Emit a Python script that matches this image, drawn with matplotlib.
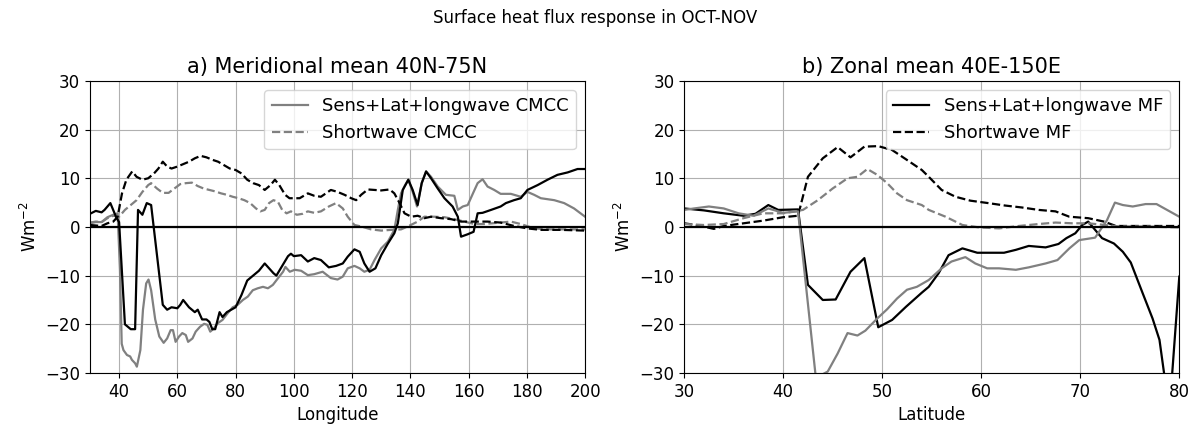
import numpy as np
import matplotlib.pyplot as plt

# a) meridional mean 40N-75N, as a function of longitude
lon_mf = [30, 32, 34, 35, 37, 39, 40, 42, 44, 45.5, 46.5, 48, 49.5, 51, 55, 56.5, 58, 60, 61, 62,
          64, 66, 67, 68.5, 70, 71, 72, 73, 74.5, 75.5, 77, 80, 82, 84, 86, 88, 90, 91.5, 93, 94,
          95, 96.5, 98, 99, 100, 102.5, 104.8, 107, 109.3, 112, 114.5, 116.8, 118.5, 120.8,
          122.6, 124.2, 126, 128, 130, 132.3, 134.5, 135.7, 137.4, 139.3, 140.8, 142.5, 143.9,
          145.4, 147.1, 149.4, 151.7, 154.5, 156.3, 157.4, 159.7, 161.7, 163.1, 164.8, 167.7,
          171, 172.8, 175.6, 177.9, 180.2, 183.7, 187.1, 190.5, 194, 197.4, 200]
sens_mf_lon = [2.7, 3.3, 3.0, 3.5, 4.9, 2.0, 1.0, -20, -21, -21, 3.5, 2.5, 4.9, 4.5, -16, -17, -16.5,
               -16.7, -16, -15, -16.5, -17.5, -17, -19, -19, -19.5, -21, -21, -17.5, -18.5, -17.5,
               -16.5, -14, -11, -10, -9, -7.5, -8.5, -9.5, -10, -9, -7.5, -6, -5.5, -6, -5.8, -7.1,
               -6.4, -6.8, -8.3, -8, -7.5, -6.1, -4.6, -5.1, -7.5, -9.2, -8.5, -5.8, -3.4, -1.3,
               0.75, 7.6, 9.7, 7.6, 4.5, 9.0, 11.4, 10, 7.9, 5.9, 4.2, 2.1, -2.0, -1.5, -1.0, 2.8,
               2.9, 3.5, 4.2, 4.9, 5.5, 5.9, 7.6, 8.6, 9.7, 10.7, 11.2, 11.9, 11.9]

lon_cm = [30, 32, 34, 36, 38, 39.5, 40.3, 40.9, 41.5, 42.7, 43.8, 44.4, 45.5, 46.1, 47.3, 48.2,
          49.3, 50.1, 51, 52.4, 53.8, 55.3, 56.5, 57.7, 58.5, 59.4, 60.6, 61.7, 62.9, 63.7, 65.2,
          66.3, 67.8, 69.2, 70.3, 71.3, 72.6, 73.8, 75.5, 77.3, 79, 80.7, 82.5, 84.2, 85.9, 87.6,
          89.4, 91.1, 92.8, 94.6, 96.3, 97.1, 98.6, 100.3, 102.5, 104.8, 107, 109.9, 112.7, 115,
          116.8, 118.5, 120.8, 122.6, 124.2, 126, 127.7, 130, 132.3, 134.5, 135.7, 136.8, 138.2,
          139.3, 140.8, 142.3, 143.9, 145.4, 147.1, 149.4, 152.2, 155.1, 156.3, 158, 159.7,
          161.5, 163.1, 164.8, 166.5, 168.8, 171, 174.5, 177.9, 180.2, 182.5, 184.8, 189.4,
          192.8, 196.2, 200]
sens_cm_lon = [0.75, 1.0, 1.0, 2.0, 2.5, 2.8, -8.8, -24, -25.3, -26.3, -26.6, -27.3, -28, -28.7,
               -25.3, -17, -11.6, -10.8, -13, -19, -22.5, -23.8, -22.9, -21.2, -21.2, -23.6,
               -22.5, -21.8, -22.2, -23.6, -22.9, -21.5, -20.5, -19.9, -20.1, -21.5, -20.8,
               -19.8, -19.1, -17.7, -16.5, -16, -15, -14.3, -13, -12.6, -12.3, -12.6, -11.9,
               -10.5, -9.2, -8.2, -9.2, -8.8, -9.0, -9.9, -9.7, -9.2, -10.5, -10.8, -10.2, -8.5,
               -8, -8.5, -9.2, -8.8, -6.8, -4.4, -3.0, -0.6, 3.5, 6.9, 8.6, 9.7, 7.2, 4.2, 9.0,
               11.4, 10.3, 8.3, 6.6, 6.4, 3.5, 4.2, 4.5, 6.9, 9.0, 9.8, 8.3, 7.6, 6.8, 6.8, 6.2,
               7.2, 6.6, 5.9, 5.5, 4.9, 3.8, 2.1]

lon_sw_mf = [30, 32, 34, 36, 38, 39.5, 41, 42.5, 44.5, 46, 48, 50, 52, 53.5, 55, 56.5, 58, 60, 62,
             64, 66, 68, 70, 72, 74, 76, 78, 80, 82, 84, 86, 88, 90, 92, 93.5, 95, 97, 98.5, 100,
             102, 104.8, 107, 109.3, 112.7, 115, 117.4, 119.7, 121.4, 123.1, 125.4, 127.7, 130,
             132.9, 134.5, 136.3, 138, 140.3, 142.5, 144.8, 147.1, 150.5, 154, 157.4, 159.7,
             163.1, 166.5, 171, 175.6, 180.2, 184.8, 191.7, 200]
sw_mf_lon = [0.4, 0.3, 0.2, 0.75, 1.1, 2.1, 6.9, 9.7, 11.4, 10.3, 9.7, 10, 11, 12, 13.4, 12.4, 12,
             12.4, 12.9, 13.4, 14.1, 14.6, 14.3, 13.8, 13.4, 12.7, 12, 11.7, 11, 9.7, 9, 8.6, 7.6,
             8.6, 9.7, 8.6, 6.6, 5.9, 5.9, 5.9, 6.9, 6.4, 6.2, 7.6, 7.2, 6.6, 5.9, 5.5, 6.6, 7.7,
             7.6, 7.5, 7.7, 6.9, 4.9, 2.8, 2.1, 2.3, 1.8, 2.1, 1.8, 1.6, 1.1, 1.1, 1.1, 1.1, 0.9,
             0.2, -0.3, -0.6, -0.6, -0.75]

lon_sw_cm = [30, 32, 34, 36, 38, 40, 42, 44, 46, 48, 50, 51, 53, 55, 57, 59, 61, 63, 65, 67, 69,
             71, 73, 75, 77, 79, 81, 83, 85, 87, 88.5, 90, 91.5, 93, 94.5, 96, 97.5, 99, 101, 103,
             104.8, 107, 109.3, 112, 114.5, 116.8, 118.5, 120.8, 123.1, 126.5, 130, 133.4, 136.8,
             139.1, 142.5, 144.8, 148.2, 151.7, 155.1, 158.5, 162, 165.4, 171, 174.5, 177.9,
             182.5, 188.2, 194, 200]
sw_cm_lon = [0.9, 1.1, 1.0, 1.8, 2.3, 2.1, 3.5, 4.5, 5.5, 7.2, 8.6, 9.0, 7.9, 7.0, 7.0, 7.9, 8.8,
             9.0, 9.1, 8.4, 7.9, 7.6, 7.3, 6.9, 6.6, 6.2, 5.9, 5.5, 4.9, 3.8, 3.2, 3.5, 4.9, 5.5,
             5.2, 3.5, 2.8, 3.2, 2.5, 2.7, 3.2, 2.9, 3.2, 4.2, 4.9, 3.8, 2.1, 0.4, 0.1, -0.5, -0.75,
             -0.6, -0.5, 0.1, 1.1, 2.1, 2.1, 2.0, 1.6, 1.1, 0.6, 0.6, 0.9, 1.1, 0.6, -0.3, -0.5,
             -0.5, -0.5]

# b) zonal mean 40E-150E, as a function of latitude
lat_mf = [30, 32, 34, 36, 37.2, 38.5, 39.5, 41.5, 42.5, 44, 45.3, 46.8, 48.2, 49.6, 51, 52.4, 54,
          54.7, 55.7, 56.7, 58.1, 59.6, 60.7, 62.3, 63.5, 64.8, 66.5, 67.8, 68.6, 69.5, 70.2,
          70.8, 71.5, 72.2, 73.4, 74.3, 75.1, 76.3, 77.3, 78, 79, 80]
sens_mf_lat = [3.8, 3.4, 2.8, 2.3, 2.7, 4.5, 3.5, 3.6, -11.9, -15, -14.9, -9.2, -6.4, -20.6, -19.1,
               -16.4, -13.5, -12.3, -9.5, -5.8, -4.4, -5.3, -5.3, -5.3, -4.7, -3.9, -4.2, -3.5,
               -2.3, -1.3, 0.4, 1.1, -0.6, -2.3, -3.4, -5.1, -7.3, -13.6, -18.8, -23.2, -38, -10.2]

lat_cm = [30, 31, 32.5, 34, 35.5, 37, 38.5, 40, 41.5, 43.3, 44.5, 45.5, 46.5, 47.5, 48.3, 49.5,
          50.5, 51.5, 52.5, 53.5, 54.7, 56, 57, 58.4, 59.4, 60.6, 61.8, 63.5, 64.8, 66.5, 67.7,
          68.9, 69.9, 71.5, 72.7, 73.5, 74.3, 75.3, 76.6, 77.7, 80]
sens_cm_lat = [3.5, 3.8, 4.2, 3.8, 2.8, 2.3, 3.8, 2.9, 3.2, -31, -29.7, -26, -21.8, -22.3, -21.3,
               -18.8, -16.9, -14.7, -12.9, -12.3, -10.9, -8.5, -7.1, -6.2, -7.5, -8.5, -8.5,
               -8.8, -8.3, -7.5, -6.8, -4.4, -2.7, -2.2, 1.4, 5.0, 4.5, 4.2, 4.7, 4.7, 2.1]

lat_sw_mf = [30, 31.5, 33, 34, 36, 38, 40, 41.5, 42.5, 44, 45.5, 46.8, 48.2, 49.6, 51, 52.4, 54,
             54.7, 56, 57.4, 58.9, 60.7, 62.4, 64.1, 65.8, 67.5, 68.9, 70.8, 72.4, 73.6, 76, 80]
sw_mf_lat = [0.75, 0.3, -0.4, 0.2, 0.75, 1.3, 2.0, 2.3, 10.3, 14.1, 16.4, 14.3, 16.5, 16.6, 15.8,
             13.9, 11.7, 10.3, 7.6, 6.2, 5.4, 4.9, 4.4, 4.0, 3.5, 3.2, 2.1, 1.8, 1.1, 0.2, 0.2, 0.2]

lat_sw_cm = [30, 32, 34, 36, 38, 40, 42, 43.5, 45, 46.5, 47.5, 48.5, 49.5, 50.5, 51.5, 52.5, 54,
             54.7, 56.4, 58.1, 59.8, 61.8, 63.8, 65.8, 67.5, 69.2, 70.8, 72.5, 73.9, 76.6, 80]
sw_cm_lat = [0.6, 0.4, 0.6, 1.8, 2.8, 2.8, 3.5, 5.5, 7.9, 10, 10.3, 11.9, 10.7, 9.0, 6.9, 5.5, 4.5,
             3.5, 2.1, 0.4, -0.1, -0.3, 0.2, 0.6, 0.9, 0.75, 0.75, 0.4, 0.1, 0.1, -0.1]

plt.rcParams["font.size"] = 12

fig, (ax1, ax2) = plt.subplots(1, 2, figsize=(11.9, 4.28), dpi=100)
fig.subplots_adjust(left=0.0756, right=0.991, bottom=0.1285, top=0.811, wspace=0.2)

ax1.plot(lon_cm, sens_cm_lon, color="grey", lw=1.6, label="Sens+Lat+longwave CMCC")
ax1.plot(lon_sw_cm, sw_cm_lon, color="grey", lw=1.6, ls="--", label="Shortwave CMCC")
ax1.plot(lon_mf, sens_mf_lon, color="k", lw=1.6)
ax1.plot(lon_sw_mf, sw_mf_lon, color="k", lw=1.6, ls="--")
ax1.axhline(0, color="k", lw=1.6)
ax1.set_xlim(30, 200)
ax1.set_ylim(-30, 30)
ax1.set_xlabel("Longitude")
ax1.set_ylabel("Wm$^{-2}$")
ax1.set_title("a) Meridional mean 40N-75N", fontsize=15)
ax1.grid(True)
ax1.legend(loc="upper right", fontsize=13)

ax2.plot(lat_mf, sens_mf_lat, color="k", lw=1.6, label="Sens+Lat+longwave MF")
ax2.plot(lat_sw_mf, sw_mf_lat, color="k", lw=1.6, ls="--", label="Shortwave MF")
ax2.plot(lat_cm, sens_cm_lat, color="grey", lw=1.6)
ax2.plot(lat_sw_cm, sw_cm_lat, color="grey", lw=1.6, ls="--")
ax2.axhline(0, color="k", lw=1.6)
ax2.set_xlim(30, 80)
ax2.set_ylim(-30, 30)
ax2.set_xlabel("Latitude")
ax2.set_ylabel("Wm$^{-2}$")
ax2.set_title("b) Zonal mean 40E-150E", fontsize=15)
ax2.grid(True)
ax2.legend(loc="upper right", fontsize=13)

fig.suptitle("Surface heat flux response in OCT-NOV", fontsize=12)

plt.savefig("out.png", dpi=100)
